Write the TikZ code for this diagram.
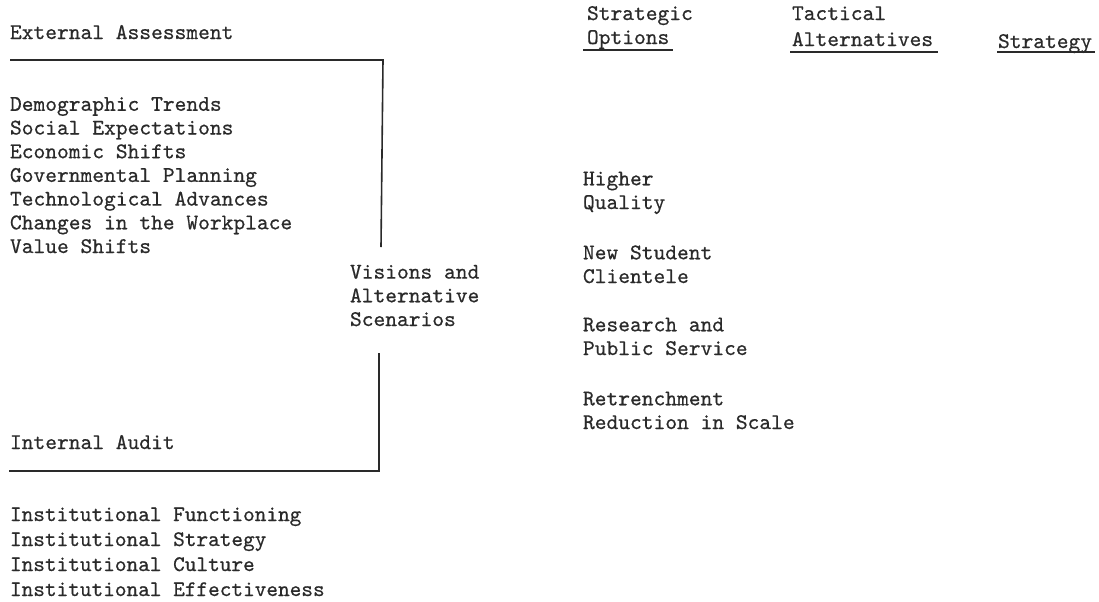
\documentclass[tikz,border=0pt]{standalone}
\usepackage{fontspec}
\newfontfamily\typewriter{lmmono10-regular.otf}[FakeBold=0.6]
\definecolor{ink}{HTML}{2A2A2A}
\begin{document}
\begin{tikzpicture}[x=0.5pt,y=-0.5pt,
  % multi-line nodes: the base anchor sits on the baseline of the last line
  txt/.style={anchor=base west, inner sep=0pt, outer sep=0pt, align=left,
    text=ink, font=\fontsize{11.2pt}{11.85pt}\selectfont\typewriter},
  loose/.style={font=\fontsize{11.1pt}{12.5pt}\selectfont\typewriter},
  rule/.style={draw=ink, line width=0.8pt},
  uline/.style={draw=ink, line width=0.9pt}]
\useasboundingbox (0,0) rectangle (1099,601);

% left column: external assessment
\node[txt] (ext) at (10,39) {External Assessment};
\node[txt] (extlist) at (10,253) {Demographic Trends\\Social Expectations\\Economic Shifts\\Governmental Planning\\Technological Advances\\Changes in the Workplace\\Value Shifts};

% left column: internal audit
\node[txt] (int) at (10,449) {Internal Audit};
\node[txt, loose] (intlist) at (10,596) {Institutional Functioning\\Institutional Strategy\\Institutional Culture\\Institutional Effectiveness};

% bracket gathering both assessments
\coordinate (top0) at (10,60);
\coordinate (top1) at (383,60);
\coordinate (top2) at (381,247);
\coordinate (bot0) at (379,353);
\coordinate (bot1) at (379,471);
\coordinate (bot2) at (9,471);
\draw[rule] (top0) -- (top1) -- (top2);
\draw[rule] (bot0) -- (bot1) -- (bot2);

\node[txt] (vis) at (350,326) {Visions and\\Alternative\\Scenarios};

% column headings
\node[txt] (soptA) at (587,20) {Strategic};
\node[txt] (soptB) at (587,44) {Options};
\node[txt] (tactA) at (792,20) {Tactical};
\node[txt] (tactB) at (792,46) {Alternatives};
\node[txt] (strat) at (998,48) {Strategy};
\draw[uline] ([xshift=-2pt,yshift=-3pt]soptB.base west) -- ([xshift=2pt,yshift=-3pt]soptB.base east);
\draw[uline] ([xshift=-1pt,yshift=-3pt]tactB.base west) -- ([xshift=2.5pt,yshift=-3pt]tactB.base east);
\draw[uline] ([xshift=-0.5pt,yshift=-2pt]strat.base west) -- ([xshift=1.5pt,yshift=-2pt]strat.base east);

% strategic options
\node[txt] (hq) at (583,209) {Higher\\Quality};
\node[txt] (nsc) at (583,283) {New Student\\Clientele};
\node[txt] (rps) at (583,355) {Research and\\Public Service};
\node[txt] (rrs) at (583,429) {Retrenchment\\Reduction in Scale};
\end{tikzpicture}
\end{document}
